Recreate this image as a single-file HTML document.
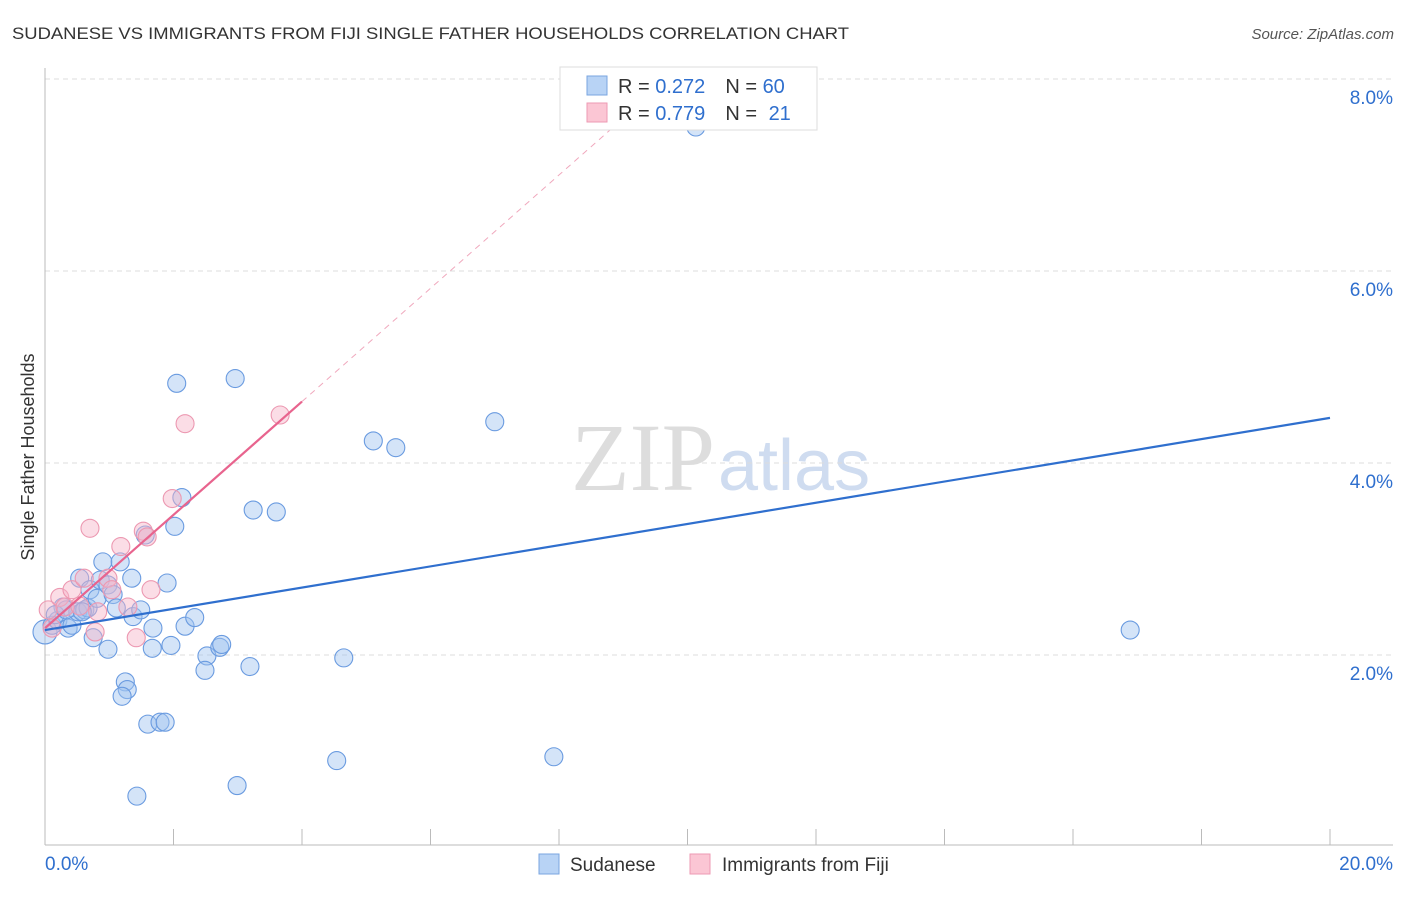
<!DOCTYPE html>
<html><head><meta charset="utf-8"><style>
body{margin:0;background:#fff;font-family:"Liberation Sans",sans-serif}
</style></head><body>
<svg id="c" width="1406" height="892" xmlns="http://www.w3.org/2000/svg" style="font-family:'Liberation Sans',sans-serif">
<text x="12" y="39" font-size="17" fill="#333" textLength="837" lengthAdjust="spacingAndGlyphs">SUDANESE VS IMMIGRANTS FROM FIJI SINGLE FATHER HOUSEHOLDS CORRELATION CHART</text>
<text x="1394" y="39" font-size="15" fill="#555" font-style="italic" text-anchor="end">Source: ZipAtlas.com</text>
<text x="715" y="490" font-size="96" fill="#ddd" text-anchor="end" font-family="Liberation Serif">ZIP</text>
<text x="718" y="490" font-size="72" fill="#cfdcf0">atlas</text>
<text transform="translate(34,457) rotate(-90)" font-size="18" fill="#333" text-anchor="middle">Single Father Households</text>
<g id="grid"></g><g id="axes"></g><g id="marks"></g>
<g>
<rect x="560" y="67" width="257" height="63" fill="#fff" stroke="#ddd"/>
<rect x="587" y="76" width="20" height="19" fill="#b8d3f5" stroke="#7aa6e0"/>
<rect x="587" y="103" width="20" height="19" fill="#fbc6d4" stroke="#ee9ab3"/>
<text x="618" y="93" font-size="20" fill="#333">R = <tspan fill="#2f6fce">0.272</tspan><tspan dx="20">N = </tspan><tspan fill="#2f6fce">60</tspan></text>
<text x="618" y="120" font-size="20" fill="#333">R = <tspan fill="#2f6fce">0.779</tspan><tspan dx="20">N = </tspan><tspan fill="#2f6fce" dx="6">21</tspan></text>
</g>
<g>
<rect x="539" y="854" width="20" height="20" fill="#b8d3f5" stroke="#7aa6e0"/>
<text x="570" y="871" font-size="19" fill="#333">Sudanese</text>
<rect x="690" y="854" width="20" height="20" fill="#fbc6d4" stroke="#ee9ab3"/>
<text x="722" y="871" font-size="19" fill="#333">Immigrants from Fiji</text>
</g>
</svg>
<script>
const blueX=[0.00,0.11,0.20,0.28,0.36,0.42,0.51,0.62,0.67,0.54,0.70,0.81,0.86,0.90,0.98,1.06,1.11,1.17,1.35,1.37,1.49,0.75,0.98,1.25,1.28,1.20,1.60,1.79,1.87,1.68,1.67,1.90,1.96,2.02,2.13,2.05,2.18,2.33,2.52,2.49,2.72,2.75,2.96,3.19,3.24,3.60,2.99,1.43,4.54,4.65,5.11,5.46,7.00,7.92,10.13,16.89,0.16,0.33,0.58,1.56];
const blueY=[2.24,2.31,2.36,2.50,2.28,2.31,2.45,2.47,2.49,2.80,2.68,2.59,2.78,2.97,2.73,2.63,2.49,2.97,2.80,2.40,2.47,2.18,2.06,1.72,1.64,1.57,1.28,1.30,1.30,2.28,2.07,2.75,2.10,3.34,3.64,4.83,2.30,2.39,1.99,1.84,2.08,2.11,4.88,1.88,3.51,3.49,0.64,0.53,0.90,1.97,4.23,4.16,4.43,0.94,7.50,2.26,2.42,2.47,2.45,3.25];
const pinkX=[0.05,0.11,0.23,0.31,0.42,0.54,0.61,0.70,0.78,0.82,0.98,1.04,1.18,1.29,1.42,1.53,1.59,1.65,1.98,2.18,3.66];
const pinkY=[2.47,2.28,2.60,2.50,2.68,2.51,2.80,3.32,2.24,2.45,2.80,2.68,3.13,2.50,2.18,3.29,3.23,2.68,3.63,4.41,4.50];
const blueTrend=[2.26,0.1105];
const pinkTrend=[2.28,0.59];
const yTicks=[2,4,6,8];
const yTickLabels=["2.0%","4.0%","6.0%","8.0%"];
const xTicks=[0,2,4,6,8,10,12,14,16,18,20];
const NS="http://www.w3.org/2000/svg";
const sx=v=>45+v*64.25, sy=v=>847-v*96;
function mk(t,a,p){const e=document.createElementNS(NS,t);for(const k in a)e.setAttribute(k,a[k]);p.appendChild(e);return e;}
const grid=document.getElementById('grid'),axes=document.getElementById('axes'),marks=document.getElementById('marks');
yTicks.forEach((v,i)=>{
 const l=mk('line',{x1:45,x2:1393,y1:sy(v),y2:sy(v),stroke:'#ddd','stroke-dasharray':'5,4'},grid);
 
 
 const t=mk('text',{x:1393,y:sy(v)+25,'font-size':19,fill:'#2f6fce','text-anchor':'end'},axes);
 t.textContent=yTickLabels[i];
 
 
});
const ax=mk('line',{x1:45,x2:45,y1:68,y2:845,stroke:'#bbb'},axes);


const bx=mk('line',{x1:45,x2:1393,y1:845,y2:845,stroke:'#bbb'},axes);


xTicks.forEach(v=>{
 const l=mk('line',{x1:sx(v),x2:sx(v),y1:829,y2:845,stroke:'#bbb'},axes);
 
 
});
const x0=mk('text',{x:45,y:870,'font-size':19,fill:'#2f6fce'},axes);x0.textContent='0.0%';


const x1=mk('text',{x:1393,y:870,'font-size':19,fill:'#2f6fce','text-anchor':'end'},axes);x1.textContent='20.0%';


blueX.forEach((v,i)=>{
 const c=mk('circle',{cx:sx(v),cy:sy(blueY[i]),r:i==0?12:9,fill:'rgba(160,195,240,0.45)',stroke:'#6a9be0','stroke-width':1.1},marks);
 
 
});
pinkX.forEach((v,i)=>{
 const c=mk('circle',{cx:sx(v),cy:sy(pinkY[i]),r:9,fill:'rgba(247,180,200,0.45)',stroke:'#ec98b1','stroke-width':1.1},marks);
 
 
});
const bl=mk('line',{x1:sx(0),y1:sy(blueTrend[0]),x2:sx(20),y2:sy(blueTrend[0]+blueTrend[1]*20),stroke:'#2f6fce','stroke-width':2.2},marks);


const xe=(8.1-pinkTrend[0])/pinkTrend[1];
const pd=mk('line',{x1:sx(4),y1:sy(pinkTrend[0]+pinkTrend[1]*4),x2:sx(xe),y2:sy(8.1),stroke:'#f0a8bd','stroke-width':1,'stroke-dasharray':'6,5'},marks);


const pl=mk('line',{x1:sx(0),y1:sy(pinkTrend[0]),x2:sx(4),y2:sy(pinkTrend[0]+pinkTrend[1]*4),stroke:'#e8648e','stroke-width':2.2},marks);


</script>
</body></html>
